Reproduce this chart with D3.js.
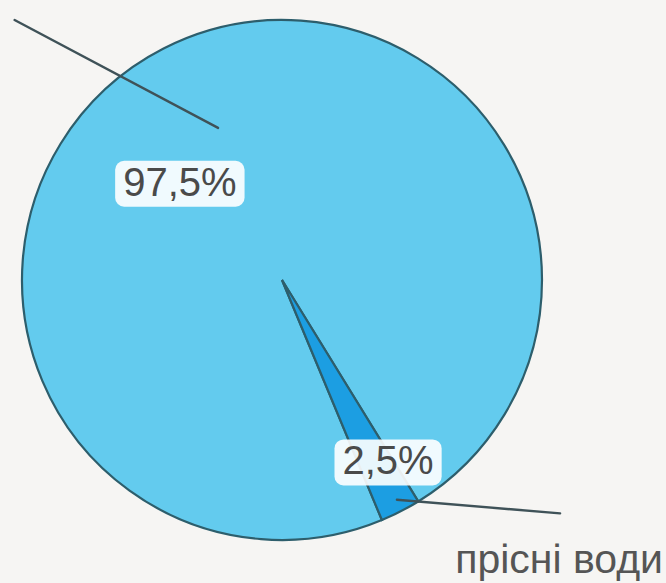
<!DOCTYPE html>
<html>
<head>
<meta charset="utf-8">
<script src="https://cdn.jsdelivr.net/npm/d3@7"></script>
<style>
  html, body { margin: 0; padding: 0; background: #f6f5f3; }
  svg { display: block; }
</style>
</head>
<body>
<svg id="chart" width="666" height="583"></svg>
<script>
// ---- data ----
const categories = ["солоні води", "прісні води"];
const values = [97.5, 2.5];
const valueLabels = ["97,5%", "2,5%"];
const calloutText = "прісні води";

// ---- layout ----
const W = 666, H = 583;
const cx = 282, cy = 280, R = 260;
const deg = Math.PI / 180;
// rotate so the small slice sits at lower right
const startAngle = 157.4 * deg;

const svg = d3.select("#chart");
svg.append("rect").attr("width", W).attr("height", H).attr("fill", "#f6f5f3");

const g = svg.append("g").attr("transform", `translate(${cx},${cy})`);

const pie = d3.pie().sort(null).startAngle(startAngle).endAngle(startAngle + 2 * Math.PI);
const arcs = pie(values);
const arc = d3.arc().innerRadius(0).outerRadius(R);
const colors = d3.scaleOrdinal().domain(categories).range(["#63cbee", "#1c9ee2"]);

g.selectAll("path.slice")
  .data(arcs)
  .join("path")
  .attr("class", "slice")
  .attr("d", arc)
  .attr("fill", (d, i) => colors(categories[i]))
  .attr("stroke", "#2d5e6c")
  .attr("stroke-width", 2.2)
  .attr("stroke-linejoin", "miter");

// leader lines (polar coordinates relative to pie centre: [angle deg, radius])
const leaders = [
  { from: [337.2, 165], to: [314.2, 373] },
  { from: [152.4, 248], to: [130.0, 363] }
];
g.selectAll("line.leader")
  .data(leaders)
  .join("line")
  .attr("class", "leader")
  .each(function (d) {
    const a = d3.pointRadial(d.from[0] * deg, d.from[1]);
    const b = d3.pointRadial(d.to[0] * deg, d.to[1]);
    d3.select(this).attr("x1", a[0]).attr("y1", a[1]).attr("x2", b[0]).attr("y2", b[1]);
  })
  .attr("stroke", "#3f5258")
  .attr("stroke-width", 2.4)
  .attr("stroke-linecap", "round");

// value labels in rounded white boxes
const labelPos = [[314, 142], [149.5, 209]];
const lab = g.selectAll("g.vlabel")
  .data(arcs)
  .join("g")
  .attr("class", "vlabel")
  .attr("transform", (d, i) => {
    const p = d3.pointRadial(labelPos[i][0] * deg, labelPos[i][1]);
    return `translate(${p[0]},${p[1]})`;
  });

lab.append("rect");
lab.append("text")
  .text((d, i) => valueLabels[i])
  .attr("text-anchor", "middle")
  .attr("dy", "0.36em")
  .attr("font-family", "'Liberation Sans', Arial, sans-serif")
  .attr("font-size", 40)
  .attr("fill", "#4a4a4a");

lab.each(function () {
  const t = d3.select(this).select("text").node().getBBox();
  d3.select(this).select("rect")
    .attr("x", t.x - 8).attr("y", t.y + 1)
    .attr("width", t.width + 16).attr("height", t.height + 2)
    .attr("rx", 9)
    .attr("fill", "#ffffff")
    .attr("fill-opacity", 0.9);
});

// callout label
svg.append("text")
  .attr("x", 663).attr("y", 573)
  .attr("text-anchor", "end")
  .attr("font-family", "'Liberation Sans', Arial, sans-serif")
  .attr("font-size", 41)
  .attr("fill", "#555555")
  .text(calloutText);
</script>
</body>
</html>
